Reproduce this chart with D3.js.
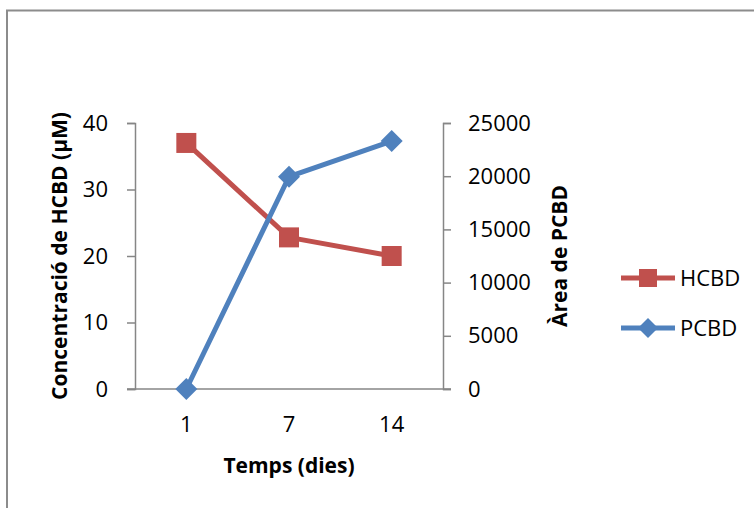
<!DOCTYPE html>
<html>
<head>
<meta charset="utf-8">
<script src="https://cdn.jsdelivr.net/npm/d3@7"></script>
<style>
  html, body { margin: 0; padding: 0; background: #fff; }
  svg { display: block; }
  text { font-family: "Open Sans", "Noto Sans", sans-serif; fill: #000; }
</style>
</head>
<body>
<svg id="chart" width="754" height="508"></svg>
<script>
// Sampling days (category axis)
const days = ["1", "7", "14"];
// HCBD concentration (µM), left axis
const hcbd = [37, 22.8, 20];
// PCBD peak area, right axis
const pcbd = [0, 19950, 23300];
// Axis ticks
const leftTicks = [0, 10, 20, 30, 40];
const rightTicks = [0, 5000, 10000, 15000, 20000, 25000];

const svg = d3.select("#chart");
const plot = { left: 135, right: 443, top: 123, bottom: 389 };
const axisColor = "#868686";
const red = "#C0504D", blue = "#4F81BD";

// chart frame
svg.append("rect")
  .attr("x", 7).attr("y", 10.5)
  .attr("width", 800).attr("height", 600)
  .attr("fill", "#fff")
  .attr("stroke", "#8c8c8c").attr("stroke-width", 2);

const x = d3.scaleBand().domain(days).range([plot.left, plot.right]);
const yL = d3.scaleLinear().domain([0, 40]).range([plot.bottom, plot.top]);
const yR = d3.scaleLinear().domain([0, 25000]).range([plot.bottom, plot.top]);
const cx = d => x(d) + x.bandwidth() / 2;

// left value axis
const gL = svg.append("g").attr("transform", `translate(${plot.left},0)`)
  .call(d3.axisLeft(yL).tickValues(leftTicks).tickFormat(d3.format("d")).tickSize(8).tickPadding(19));
// right value axis
const gR = svg.append("g").attr("transform", `translate(${plot.right},0)`)
  .call(d3.axisRight(yR).tickValues(rightTicks).tickFormat(d3.format("d")).tickSize(8).tickPadding(17));
// category axis
const gX = svg.append("g").attr("transform", `translate(0,${plot.bottom})`)
  .call(d3.axisBottom(x).tickSize(0).tickPadding(27));

[gL, gR, gX].forEach(g => {
  g.select(".domain").attr("stroke", axisColor).attr("stroke-width", 1.5);
  g.selectAll(".tick line").attr("stroke", axisColor).attr("stroke-width", 1.5);
  g.selectAll(".tick text")
    .attr("font-family", '"Open Sans", "Noto Sans", sans-serif')
    .attr("font-size", 22).attr("fill", "#000");
});
gX.select(".domain").attr("d", `M${plot.left - 8},0H${plot.right + 8}`);

// axis titles
svg.append("text")
  .attr("transform", `translate(${(plot.left + plot.right) / 2},473)`)
  .attr("text-anchor", "middle").attr("font-weight", "bold").attr("font-size", 21)
  .text("Temps (dies)");
svg.append("text")
  .attr("transform", `translate(67,${(plot.top + plot.bottom) / 2}) rotate(-90)`)
  .attr("text-anchor", "middle").attr("font-weight", "bold").attr("font-size", 21)
  .text("Concentració de HCBD (µM)");
svg.append("text")
  .attr("transform", `translate(567,${(plot.top + plot.bottom) / 2}) rotate(-90)`)
  .attr("text-anchor", "middle").attr("font-weight", "bold").attr("font-size", 21)
  .text("Àrea de PCBD");

// series
const lineL = d3.line().x((d, i) => cx(days[i])).y(d => yL(d));
const lineR = d3.line().x((d, i) => cx(days[i])).y(d => yR(d));

svg.append("path").attr("d", lineL(hcbd))
  .attr("fill", "none").attr("stroke", red).attr("stroke-width", 5).attr("stroke-linejoin", "round");
svg.append("path").attr("d", lineR(pcbd))
  .attr("fill", "none").attr("stroke", blue).attr("stroke-width", 5).attr("stroke-linejoin", "round");

const sq = 20, dm = 11;
svg.selectAll(".hcbd").data(hcbd).enter().append("rect")
  .attr("x", (d, i) => cx(days[i]) - sq / 2).attr("y", d => yL(d) - sq / 2)
  .attr("width", sq).attr("height", sq).attr("fill", red);
const diamond = (px, py, r) => `M${px},${py - r}L${px + r},${py}L${px},${py + r}L${px - r},${py}Z`;
svg.selectAll(".pcbd").data(pcbd).enter().append("path")
  .attr("d", (d, i) => diamond(cx(days[i]), yR(d), dm)).attr("fill", blue);

// legend
const legend = [
  { name: "HCBD", color: red, y: 278, marker: "square" },
  { name: "PCBD", color: blue, y: 328, marker: "diamond" }
];
legend.forEach(l => {
  svg.append("line").attr("x1", 621).attr("x2", 675).attr("y1", l.y).attr("y2", l.y)
    .attr("stroke", l.color).attr("stroke-width", 5);
  if (l.marker === "square") {
    svg.append("rect").attr("x", 648 - 9).attr("y", l.y - 9).attr("width", 18).attr("height", 18).attr("fill", l.color);
  } else {
    svg.append("path").attr("d", diamond(648, l.y, 10)).attr("fill", l.color);
  }
  svg.append("text").attr("x", 680).attr("y", l.y).attr("dy", "0.35em")
    .attr("font-size", 22).text(l.name);
});
</script>
</body>
</html>
